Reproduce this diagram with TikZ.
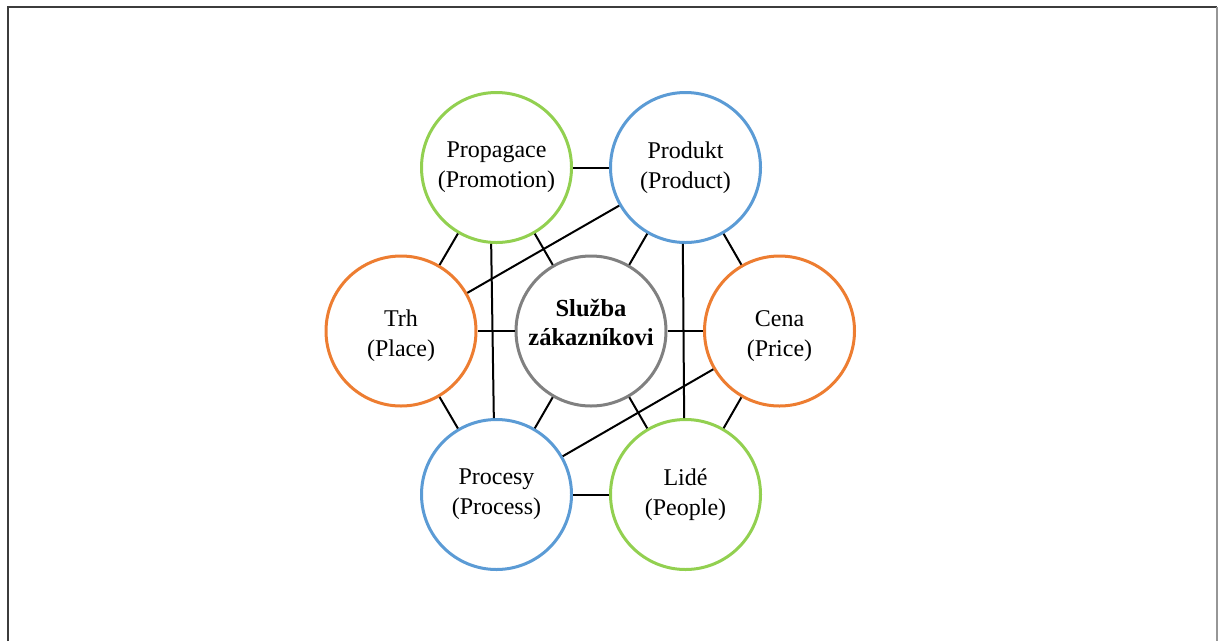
\documentclass[tikz,border=0pt]{standalone}
\usepackage{fontspec}
\setmainfont{Liberation Serif}
\definecolor{ringgreen}{RGB}{146,208,80}
\definecolor{ringblue}{RGB}{91,155,213}
\definecolor{ringorange}{RGB}{237,125,49}
\definecolor{ringgrey}{RGB}{128,128,128}
\definecolor{framedark}{RGB}{60,60,60}
\definecolor{framelight}{RGB}{150,150,150}
% extra head room that lowers a two-line label a little
\newcommand{\lowerlabel}{\rule{0pt}{27pt}}
\begin{document}
\begin{tikzpicture}[x=1pt,y=-1pt,
  ring/.style={circle,draw,line width=3pt,minimum size=150pt,inner sep=0pt,
    align=center,fill=white,font=\fontsize{24}{30}\selectfont},
  hub/.style={ring,draw=ringgrey,font=\fontsize{24.5}{29.5}\selectfont\bfseries},
  link/.style={draw=black,line width=2pt}]
  \useasboundingbox (0,0) rectangle (1218,641);
  % frame
  \draw[framedark,line width=2pt] (8,641) -- (8,7) -- (1217,7);
  \draw[framelight,line width=2pt] (1217,7) -- (1217,641);

  % circles on a hexagon around the centre
  \node[hub] (c) at (591,331) {Služba\\zákazníkovi\rule[-17pt]{0pt}{17pt}};
  \node[ring,draw=ringorange] (cen) at (779.5,331) {\lowerlabel Cena\\(Price)};
  \node[ring,draw=ringblue] (prd) at (685.5,167.5) {Produkt\\(Product)};
  \node[ring,draw=ringgreen] (pro) at (496.5,167.5) {Propagace\\(Promotion)};
  \node[ring,draw=ringorange] (trh) at (401,331) {\lowerlabel Trh\\(Place)};
  \node[ring,draw=ringblue] (prc) at (496.5,494.5) {Procesy\\(Process)};
  \node[ring,draw=ringgreen] (lid) at (685.5,494.5) {Lidé\\(People)};

  % outer ring of links
  \path[link] (pro) -- (prd);
  \path[link] (prd) -- (cen);
  \path[link] (cen) -- (lid);
  \path[link] (lid) -- (prc);
  \path[link] (prc) -- (trh);
  \path[link] (trh) -- (pro);
  % spokes to the centre
  \foreach \n in {pro,prd,cen,lid,prc,trh} \path[link] (c) -- (\n);
  % cross links
  \path[link] (prd) -- (trh);
  \path[link] (cen) -- (prc);
  \path[link] (pro.-94) -- (prc.92);
  \path[link] (prd.-92) -- (lid.91);
\end{tikzpicture}
\end{document}
